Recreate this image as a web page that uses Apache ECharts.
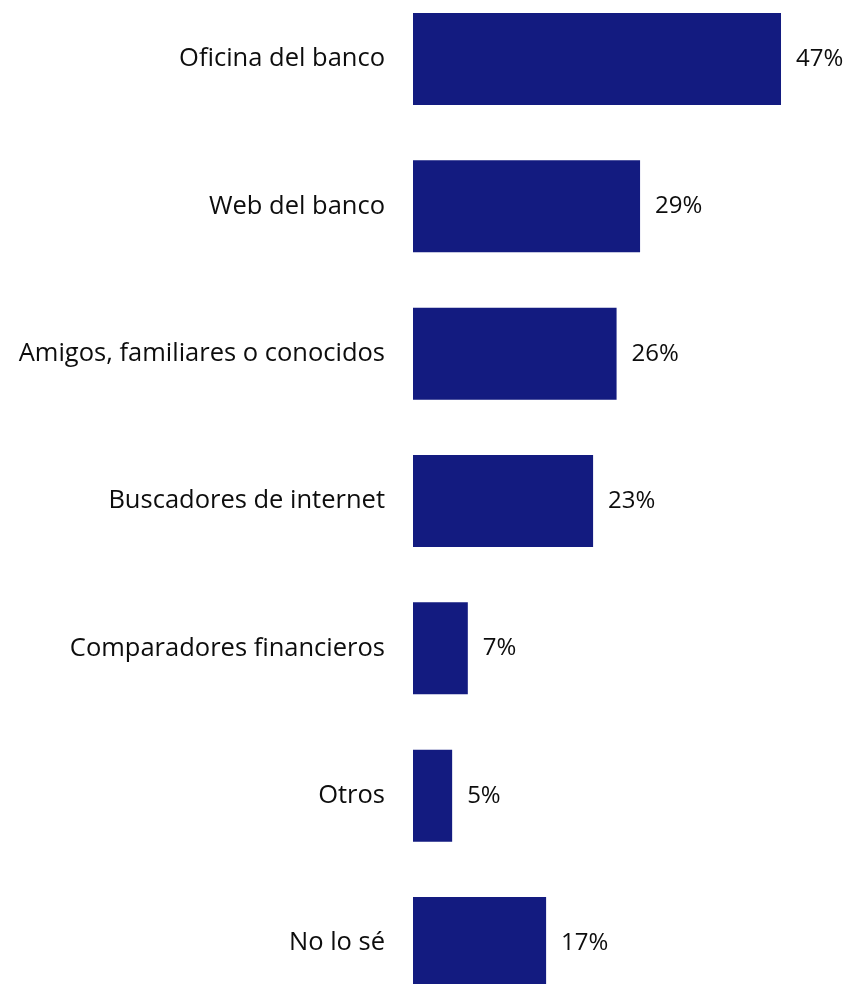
<!DOCTYPE html>
<html>
<head>
<meta charset="utf-8">
<script src="https://cdn.jsdelivr.net/npm/echarts@6/dist/echarts.min.js"></script>
<style>
  html, body { margin: 0; padding: 0; background: #fff; }
  #chart { width: 852px; height: 984px; }
</style>
</head>
<body>
<div id="chart"></div>
<script>
// Canales de información utilizados (porcentaje de respuestas)
const categories = [
  'Oficina del banco',
  'Web del banco',
  'Amigos, familiares o conocidos',
  'Buscadores de internet',
  'Comparadores financieros',
  'Otros',
  'No lo sé'
];
const values = [47, 29, 26, 23, 7, 5, 17];

const chart = echarts.init(document.getElementById('chart'), null, { renderer: 'canvas' });

const FONT = '"Open Sans", Lato, sans-serif';

chart.setOption({
  animation: false,
  backgroundColor: '#ffffff',
  // category ticks sit at the bar centres (boundaryGap off)
  grid: { left: 413, right: 47.5, top: 59, bottom: 41, containLabel: false },
  xAxis: {
    type: 'value',
    min: 0,
    max: 50,
    show: false
  },
  yAxis: {
    type: 'category',
    inverse: true,
    boundaryGap: false,
    data: categories,
    axisLine: { show: false },
    axisTick: { show: false },
    splitLine: { show: false },
    axisLabel: {
      margin: 28,
      color: '#0d0d0d',
      fontFamily: FONT,
      fontSize: 25.5
    }
  },
  series: [{
    type: 'bar',
    data: values,
    barWidth: 92,
    clip: false,
    itemStyle: { color: '#131B80' },
    label: {
      show: true,
      position: 'right',
      distance: 15,
      formatter: p => p.value + '%',
      color: '#0d0d0d',
      fontFamily: FONT,
      fontSize: 24
    }
  }]
});
</script>
</body>
</html>
